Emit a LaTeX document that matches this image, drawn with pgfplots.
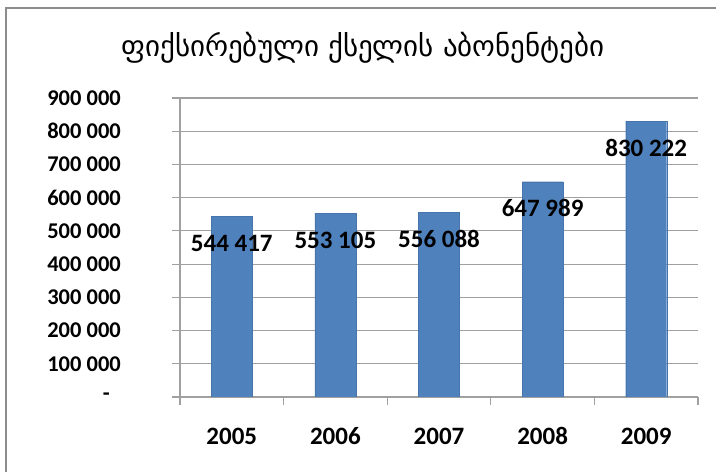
\documentclass[border=0pt]{standalone}
\usepackage{fontspec}
\setmainfont{Carlito}
\newfontfamily\geo{DejaVu Sans}
\usepackage{pgfplots}
\pgfplotsset{compat=1.18}
\definecolor{barblue}{HTML}{4F81BD}
\definecolor{gridgray}{HTML}{A0A0A0}
\definecolor{framegray}{HTML}{8C8C8C}

\begin{document}
\begin{tikzpicture}[x=1bp,y=1bp]
\path[use as bounding box] (0,0) rectangle (716,472);
\draw[framegray, line width=2.5bp] (6,0) -- (6,464) -- (716,464);
\begin{axis}[
    at={(180bp,75bp)}, anchor=south west,
    scale only axis, width=518bp, height=299bp,
    xmin=-0.5, xmax=4.5, ymin=0, ymax=900000,
    enlarge x limits=false, enlarge y limits=false,
    scaled y ticks=false,
    ybar, bar width=41bp,
    axis x line*=bottom, axis y line*=left,
    axis line style={gridgray, line width=1.2bp},
    tick align=outside, major tick length=8bp,
    tick style={draw=gridgray, line width=1.2bp},
    ymajorgrids, grid style={gridgray, line width=1.2bp},
    ytick={0,100000,200000,300000,400000,500000,600000,700000,800000,900000},
    yticklabels={{-\hspace*{11bp}},{100 000},{200 000},{300 000},{400 000},{500 000},{600 000},{700 000},{800 000},{900 000}},
    yticklabel style={font=\fontsize{22.5bp}{24bp}\selectfont\bfseries, anchor=east, inner sep=0pt, xshift=-51bp},
    xtick={-0.5,0.5,1.5,2.5,3.5,4.5},
    xticklabels={},
    extra x ticks={0,1,2,3,4},
    extra x tick labels={2005,2006,2007,2008,2009},
    extra x tick style={major tick length=0pt, tick style={draw=none},
        xticklabel style={font=\fontsize{25bp}{27bp}\selectfont\bfseries, anchor=base, inner sep=0pt, yshift=-47.5bp}},
    title={\geo ფიქსირებული ქსელის აბონენტები},
    title style={at={(0.353,1.147)}, anchor=center, font=\fontsize{29bp}{32bp}\selectfont},
]
\addplot[fill=barblue, draw=barblue!90!black,
    nodes near coords, point meta=explicit symbolic,
    every node near coord/.append style={anchor=base, inner sep=0pt, yshift=-35bp, text=black,
        font=\fontsize{25bp}{27bp}\selectfont\bfseries}]
coordinates {
    (0,544417) [544 417]
    (1,553105) [553 105]
    (2,556088) [556 088]
    (3,647989) [647 989]
    (4,830222) [830 222]
};
\end{axis}
\end{tikzpicture}
\end{document}
